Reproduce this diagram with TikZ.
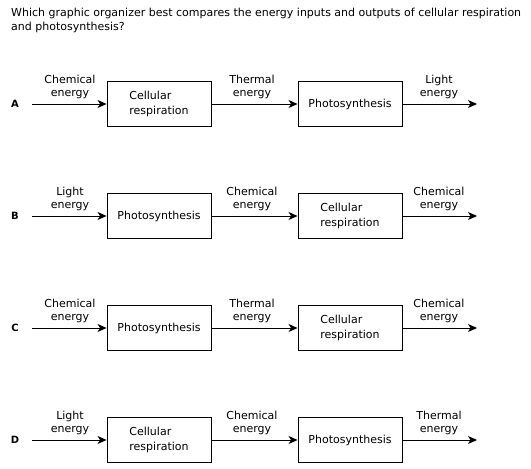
\documentclass[tikz,border=0pt]{standalone}
\usepackage{fontspec}
\setmainfont{DejaVu Sans}
\usetikzlibrary{arrows.meta}
\begin{document}
\begin{tikzpicture}[x=1pt,y=-1pt,
  proc/.style={draw,line width=0.9pt,minimum width=104pt,minimum height=45pt,inner sep=0pt,font=\fontsize{11}{15}\selectfont,align=left},
  lbl/.style={font=\fontsize{11}{13.5}\selectfont,align=center},
  flow/.style={line width=0.9pt,-{Stealth[length=9pt,width=8pt,inset=2.5pt]}},
  letter/.style={font=\bfseries\fontsize{10}{12}\selectfont}]
\useasboundingbox (0,0) rectangle (531,469);
\node[anchor=north west,align=left,font=\fontsize{11}{13.5}\selectfont,inner sep=0pt] (q) at (11,8)
  {Which graphic organizer best compares the energy inputs and outputs of cellular respiration\\and photosynthesis?};
\foreach \r/\L/\one/\two/\la/\lb/\lc [count=\i] in {
  104/A/{Cellular\\respiration}/Photosynthesis/Chemical/Thermal/Light,
  216/B/Photosynthesis/{Cellular\\respiration}/Light/Chemical/Chemical,
  328/C/Photosynthesis/{Cellular\\respiration}/Chemical/Thermal/Chemical,
  440/D/{Cellular\\respiration}/Photosynthesis/Light/Chemical/Thermal}{
  \node[letter] (L\i) at (15,\r) {\L};
  \coordinate (s\i) at (32,\r);
  \node[proc] (b\i) at (159,\r) {\one};
  \node[proc] (c\i) at (350,\r) {\two};
  \coordinate (e\i) at (477,\r);
  \draw[flow] (s\i) -- (b\i);
  \draw[flow] (b\i) -- (c\i);
  \draw[flow] (c\i) -- (e\i);
  \node[lbl] (la\i) at (70,\r-17) {\la\\energy};
  \node[lbl] (lb\i) at (252,\r-17) {\lb\\energy};
  \node[lbl] (lc\i) at (439,\r-17) {\lc\\energy};
}
\end{tikzpicture}
\end{document}
